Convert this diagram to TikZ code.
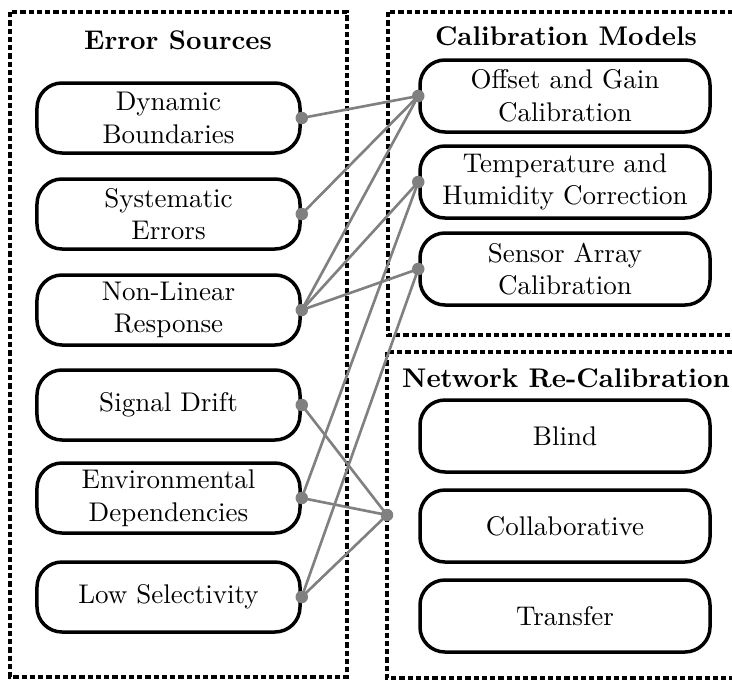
\documentclass[tikz,border=0pt]{standalone}
\begin{document}
\begin{tikzpicture}[x=0.4pt,y=-0.4pt,
  box/.style={draw=black,line width=1.4pt,rounded corners=10pt,align=center,
    inner sep=0pt,font=\fontsize{10.8}{13}\selectfont},
  srcbox/.style={box,minimum width=105.2pt,minimum height=28pt},
  modbox/.style={box,minimum width=116pt,minimum height=28.8pt},
  frame/.style={draw=black,line width=1.3pt,dash pattern=on 2.1pt off 1.2pt},
  heading/.style={font=\fontsize{10.8}{13}\selectfont\bfseries,inner sep=0pt},
  link/.style={draw=gray,line width=1.05pt},
  dot/.style={fill=gray,draw=none}]
\clip (0,0) rectangle (732,680);
\fill[white] (0,0) rectangle (732,680);

% group frames
\draw[frame] (10,12) rectangle (347,677);
\draw[frame] (388,12) rectangle (770,335);
\draw[frame] (387,352) rectangle (770,678);

% headings
\node[heading] (hsrc) at (178,40) {Error Sources};
\node[heading] (hmod) at (566,36) {Calibration Models};
\node[heading] (hnet) at (566,378) {Network Re-Calibration};

% error sources
\node[srcbox] (dyn) at (168.5,118) {Dynamic\\Boundaries};
\node[srcbox] (sys) at (168.5,214) {Systematic\\Errors};
\node[srcbox] (nonlin) at (168.5,310) {Non-Linear\\Response};
\node[srcbox] (drift) at (168.5,405) {Signal Drift};
\node[srcbox] (env) at (168.5,498) {Environmental\\Dependencies};
\node[srcbox] (lowsel) at (168.5,597) {Low Selectivity};

% calibration models
\node[modbox] (offset) at (565,96) {Offset and Gain\\Calibration};
\node[modbox] (temp) at (565,182) {Temperature and\\Humidity Correction};
\node[modbox] (array) at (565,269) {Sensor Array\\Calibration};

% network re-calibration
\node[modbox] (blind) at (565,436) {Blind};
\node[modbox] (collab) at (565,526) {Collaborative};
\node[modbox] (transfer) at (565,616) {Transfer};

% hub on the network frame
\coordinate (hub) at (387,515);

% links
\draw[link] (dyn.east) -- (offset.west);
\draw[link] (sys.east) -- (offset.west);
\draw[link] (nonlin.east) -- (offset.west);
\draw[link] (nonlin.east) -- (temp.west);
\draw[link] (nonlin.east) -- (array.west);
\draw[link] (env.east) -- (temp.west);
\draw[link] (lowsel.east) -- (array.west);
\draw[link] (drift.east) -- (hub);
\draw[link] (env.east) -- (hub);
\draw[link] (lowsel.east) -- (hub);

% link end dots
\foreach \n in {dyn,sys,nonlin,drift,env,lowsel}
  \fill[dot] (\n.east) circle (2.5pt);
\foreach \n in {offset,temp,array}
  \fill[dot] (\n.west) circle (2.5pt);
\fill[dot] (hub) circle (2.5pt);
\end{tikzpicture}
\end{document}
